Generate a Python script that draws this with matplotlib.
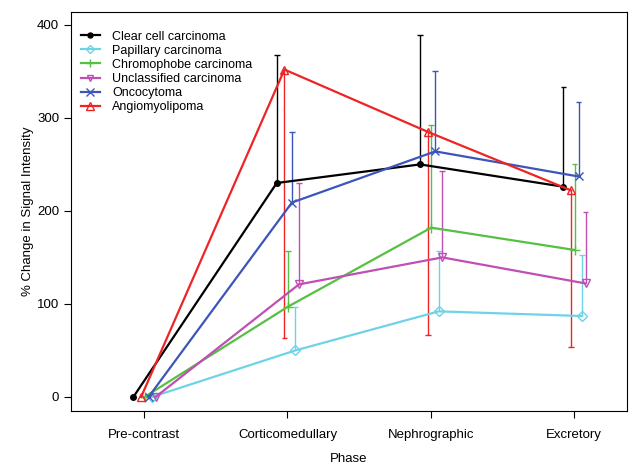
import matplotlib
matplotlib.use("Agg")
import matplotlib.pyplot as plt
import numpy as np

plt.rcParams['font.family'] = ['Liberation Sans', 'DejaVu Sans']

phases = ['Pre-contrast', 'Corticomedullary', 'Nephrographic', 'Excretory']
tumours = ['Clear cell carcinoma', 'Papillary carcinoma', 'Chromophobe carcinoma',
           'Unclassified carcinoma', 'Oncocytoma', 'Angiomyolipoma']

# mean % change per phase
clear_cell = [0, 230, 250, 226]
papillary = [0, 50, 92, 87]
chromophobe = [0, 97, 182, 158]
unclassified = [0, 121, 150, 122]
oncocytoma = [0, 209, 264, 237]
angiomyolipoma = [0, 352, 285, 222]

# one-sided error bars (upper end for most, lower end for angiomyolipoma)
clear_cell_err = [0, 368, 389, 333]
papillary_err = [0, 97, 157, 153]
chromophobe_err = [0, 157, 292, 250]
unclassified_err = [0, 230, 243, 199]
oncocytoma_err = [0, 285, 350, 317]
angiomyolipoma_err = [0, 63, 67, 54]

means = [clear_cell, papillary, chromophobe, unclassified, oncocytoma, angiomyolipoma]
ends = [clear_cell_err, papillary_err, chromophobe_err, unclassified_err,
        oncocytoma_err, angiomyolipoma_err]

colors = ['#000000', '#6fd3e6', '#55c043', '#c04fb4', '#3d55b8', '#ee2424']
markers = ['o', 'D', '+', 'v', 'x', '^']
msizes = [4, 5, 7, 5.5, 6, 6]
dodge = [-0.075, 0.055, 0.003, 0.08, 0.031, -0.021]


def main():
    fig = plt.figure(figsize=(6.4, 4.75), dpi=100)
    ax = fig.add_axes([0.111, 0.135, 0.869, 0.84])

    x = np.arange(1, len(phases) + 1)
    for i, name in enumerate(tumours):
        xs = x + dodge[i]
        m = np.array(means[i], dtype=float)
        e = np.array(ends[i], dtype=float)
        lo = np.minimum(m, e)
        hi = np.maximum(m, e)
        ax.vlines(xs[1:], lo[1:], hi[1:], color=colors[i], lw=1, zorder=2)
        ax.hlines(e[1:], xs[1:] - 0.02, xs[1:] + 0.02, color=colors[i], lw=1, zorder=2)
        filled = colors[i] if markers[i] == 'o' else 'none'
        ax.plot(xs, m, color=colors[i], lw=1.6, marker=markers[i], ms=msizes[i],
                mfc=filled, mec=colors[i], mew=1.0, label=name, zorder=3)

    ax.set_xlim(0.49, 4.37)
    ax.set_ylim(-15, 414)
    ax.set_xticks(x)
    ax.set_xticklabels(phases)
    ax.set_yticks([0, 100, 200, 300, 400])
    ax.tick_params(axis='both', labelsize=9.5, length=5, direction='out')
    ax.tick_params(axis='x', pad=8)
    ax.set_xlabel('Phase', fontsize=9.5, labelpad=9)
    ax.set_ylabel('% Change in Signal Intensity', fontsize=9.5, labelpad=2)

    ax.legend(loc='upper left', bbox_to_anchor=(0.002, 0.975), frameon=False,
              fontsize=9, handlelength=1.5, borderaxespad=0.3, borderpad=0.4,
              labelspacing=0.17, handletextpad=1.0, markerscale=0.9)

    plt.savefig('out.png', dpi=100)


if __name__ == '__main__':
    main()
